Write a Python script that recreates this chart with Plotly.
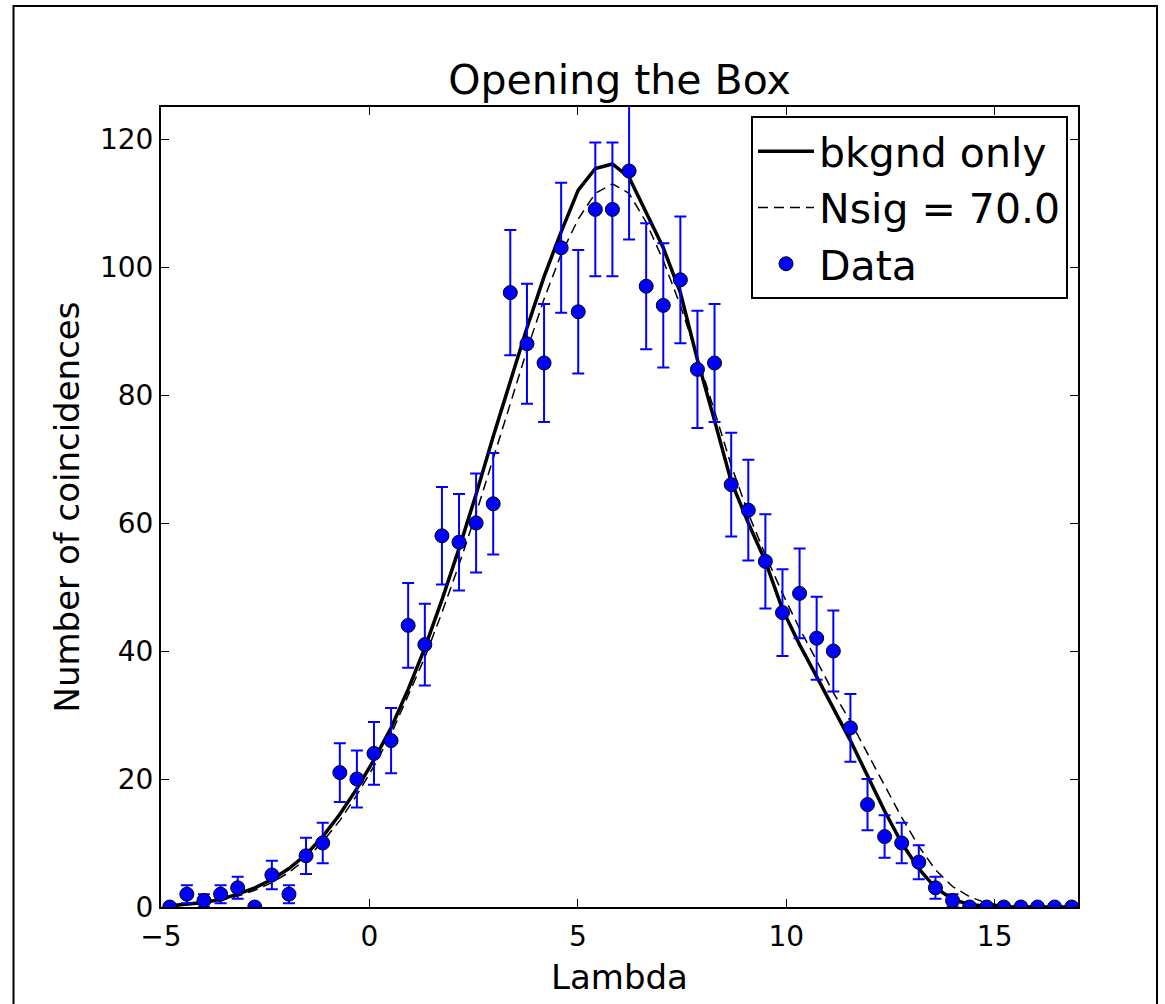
import plotly.graph_objects as go

# Bin centres (Lambda)
lam = [-4.79, -4.38, -3.97, -3.57, -3.16, -2.75, -2.34, -1.93, -1.52, -1.12,
       -0.71, -0.30, 0.11, 0.52, 0.93, 1.33, 1.74, 2.15, 2.56, 2.97,
       3.38, 3.78, 4.19, 4.60, 5.01, 5.42, 5.83, 6.23, 6.64, 7.05,
       7.46, 7.87, 8.28, 8.68, 9.09, 9.50, 9.91, 10.32, 10.73, 11.13,
       11.54, 11.95, 12.36, 12.77, 13.18, 13.58, 13.99, 14.40, 14.81, 15.22,
       15.63, 16.03, 16.44, 16.85]

# Observed coincidences
data_counts = [0, 2, 1, 2, 3, 0, 5, 2, 8, 10,
               21, 20, 24, 26, 44, 41, 58, 57, 60, 63,
               96, 88, 85, 103, 93, 109, 109, 115, 97, 94,
               98, 84, 85, 66, 62, 54, 46, 49, 42, 40,
               28, 16, 11, 10, 7, 3, 1, 0, 0, 0,
               0, 0, 0, 0]

# Poisson error bars
data_err = [0, 1.41, 1.0, 1.41, 1.73, 0, 2.24, 1.41, 2.83, 3.16,
            4.58, 4.47, 4.90, 5.10, 6.63, 6.40, 7.62, 7.55, 7.75, 7.94,
            9.80, 9.38, 9.22, 10.15, 9.64, 10.44, 10.44, 10.72, 9.85, 9.70,
            9.90, 9.17, 9.22, 8.12, 7.87, 7.35, 6.78, 7.0, 6.48, 6.32,
            5.29, 4.0, 3.32, 3.16, 2.65, 1.73, 1.0, 0, 0, 0,
            0, 0, 0, 0]

# Background-only expectation
bkgnd = [0.2, 0.4, 0.7, 1.2, 2.0, 3.0, 4.3, 6.0, 8.2, 11.0,
         14.5, 18.5, 23.0, 28.0, 34.0, 40.5, 48.0, 56.0, 64.5, 73.5,
         82.0, 90.5, 98.5, 105.5, 112.0, 115.4, 116.1, 114.0, 108.5, 103.0,
         96.0, 85.5, 76.0, 66.5, 60.0, 54.0, 46.5, 41.0, 36.0, 31.0,
         26.0, 20.5, 15.0, 10.0, 6.0, 3.0, 1.2, 0.4, 0.1, 0.0,
         0.0, 0.0, 0.0, 0.0]

# Expectation with Nsig = 70.0
nsig = [0.1, 0.3, 0.6, 1.0, 1.7, 2.6, 3.8, 5.4, 7.5, 10.2,
        13.5, 17.5, 22.0, 27.0, 33.0, 39.0, 46.0, 53.5, 61.5, 70.0,
        78.5, 87.0, 95.0, 102.0, 107.5, 111.5, 113.0, 111.5, 107.0, 101.0,
        94.0, 86.0, 77.5, 69.0, 61.5, 55.0, 49.0, 43.5, 38.5, 33.5,
        29.0, 24.0, 19.0, 14.0, 9.5, 5.8, 3.2, 1.6, 0.6, 0.2,
        0.0, 0.0, 0.0, 0.0]

x_ticks = [-5, 0, 5, 10, 15]
y_ticks = [0, 20, 40, 60, 80, 100, 120]

FONT = "DejaVu Sans"

fig = go.Figure()
fig.add_trace(go.Scatter(x=lam, y=bkgnd, mode="lines", name="bkgnd only",
                         line=dict(color="black", width=3.5)))
fig.add_trace(go.Scatter(x=lam, y=nsig, mode="lines", name="Nsig = 70.0",
                         line=dict(color="black", width=1.5, dash="10px,6px")))
fig.add_trace(go.Scatter(x=lam, y=data_counts, mode="markers", name="Data",
                         marker=dict(color="#0000ff", size=14,
                                     line=dict(color="black", width=1)),
                         error_y=dict(type="data", array=data_err, visible=True,
                                      color="#0000ff", thickness=2, width=6)))

L, R, T, B = 161, 1078, 107, 907
W, H = 1165, 1004
pw, ph = R - L, B - T

def px2paper_x(px):
    return (px - L) / pw

def px2paper_y(py):
    return (B - py) / ph

axis_common = dict(showline=True, linecolor="black", linewidth=2, mirror="ticks",
                   ticks="inside", ticklen=8, tickwidth=1, tickcolor="black",
                   showgrid=False, zeroline=False,
                   tickfont=dict(family=FONT, size=28, color="black"))

fig.update_layout(
    width=W, height=H,
    margin=dict(l=L, r=W - R, t=T, b=H - B),
    paper_bgcolor="white", plot_bgcolor="white",
    font=dict(family=FONT, color="black"),
    title=dict(text="Opening the Box", x=0.5, xref="paper", y=1 - 80 / H,
               yref="container", xanchor="center", yanchor="middle",
               font=dict(family=FONT, size=41, color="black")),
    xaxis=dict(range=[-5, 17], tickvals=x_ticks, ticklabelstandoff=3,
               title=dict(text="Lambda", font=dict(family=FONT, size=34), standoff=14),
               **axis_common),
    yaxis=dict(range=[0, 125], tickvals=y_ticks,
               title=dict(text="Number of coincidences", font=dict(family=FONT, size=34),
                          standoff=10),
               **axis_common),
    legend=dict(x=px2paper_x(1068), y=px2paper_y(116), xanchor="right", yanchor="top",
                bgcolor="white", bordercolor="black", borderwidth=2,
                font=dict(family=FONT, size=41, color="black"),
                itemwidth=56, tracegroupgap=0),
    showlegend=True,
)

# outer figure frame
fig.add_shape(type="rect", xref="paper", yref="paper",
              x0=px2paper_x(13.5), x1=px2paper_x(1157),
              y0=px2paper_y(1015), y1=px2paper_y(6),
              line=dict(color="black", width=2), fillcolor="rgba(0,0,0,0)", layer="above")

fig.write_html("out.html")
